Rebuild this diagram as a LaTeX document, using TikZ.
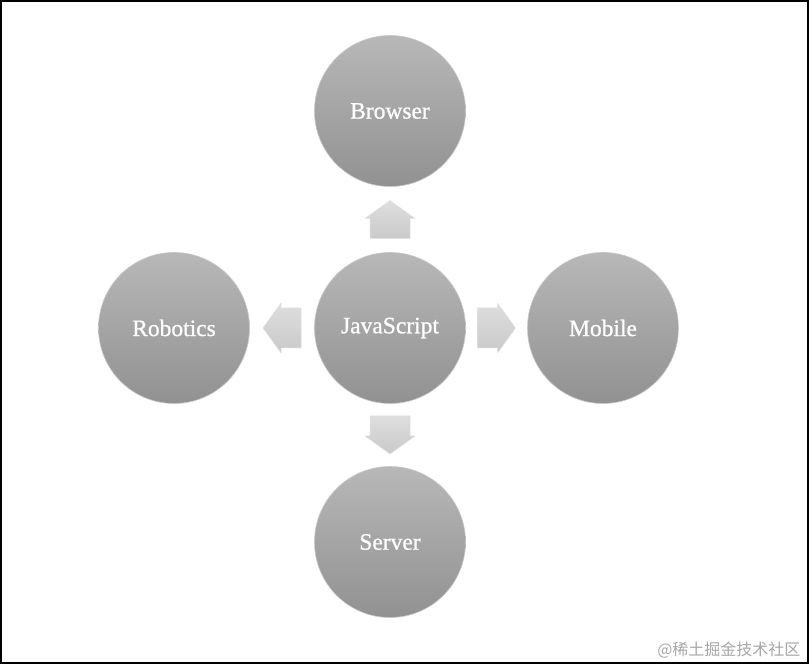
\documentclass[tikz,border=0pt]{standalone}
\usepackage{fontspec}
\setmainfont{Liberation Serif}
\newfontfamily\balltext[FakeBold=0.8]{Liberation Serif}
\newfontfamily\cjk{Noto Sans CJK SC}
\usetikzlibrary{calc}
\tikzset{
  ball/.style={circle, minimum size=151pt, inner sep=0pt, top color=black!28, bottom color=black!43, draw=black!22, line width=0.6pt, text=white, font=\balltext\fontsize{23.5}{26}\selectfont},
  blockarrow/.style={top color=black!13, bottom color=black!21, draw=black!12, line width=0.5pt, line join=round}
}
\begin{document}
\begin{tikzpicture}[x=1pt, y=1pt]
\useasboundingbox (0,0) rectangle (810,664);
\draw[line width=2pt] (1,1.5) rectangle (807.5,663);
\node[ball] (js) at (390,336) {JavaScript};
\node[ball] (br) at (390,553) {Browser};
\node[ball] (rb) at (174,336) {Robotics};
\node[ball] (mo) at (603,336) {Mobile};
\node[ball] (sv) at (390,122) {Server};
% block arrows from the centre to each ball
\foreach \to/\ang in {br/90, mo/0, sv/-90, rb/180}
  \path[blockarrow, shift={($(js)!0.5!(\to)$)}, rotate=\ang]
    (-19,-20) -- (1,-20) -- (1,-25) -- (19,0) -- (1,25) -- (1,20) -- (-19,20) -- cycle;
\node[text=black!35, font=\cjk\fontsize{16}{18}\selectfont, anchor=east] (mark) at (804,14) {@稀土掘金技术社区};
\end{tikzpicture}
\end{document}
